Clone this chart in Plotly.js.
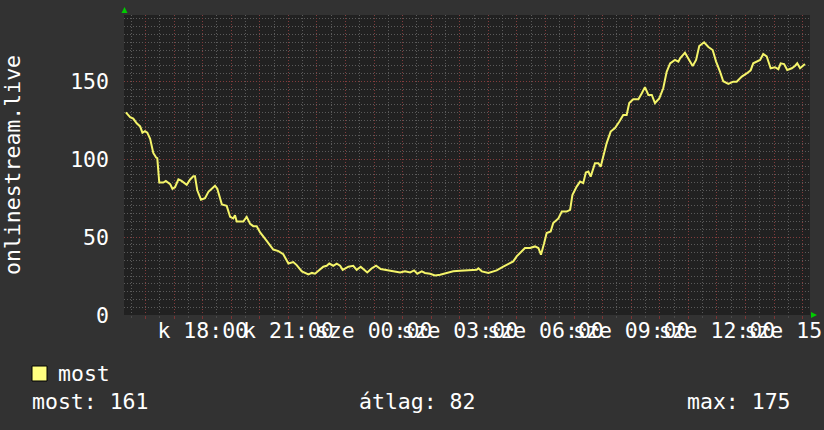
<!DOCTYPE html>
<html>
<head>
<meta charset="utf-8">
<script src="https://cdn.plot.ly/plotly-3.0.1.min.js"></script>
<style>
  html, body { margin: 0; padding: 0; background: #323232; }
  #chart { width: 824px; height: 430px; }
</style>
</head>
<body>
<div id="chart"></div>
<script>
// time of day in hours (24+ = next day, szerda)
const hours = [15.31,15.46,15.57,15.69,15.81,15.89,15.98,16.06,16.16,16.27,16.37,16.41,16.48,16.62,16.71,16.86,16.94,17.03,17.15,17.26,17.44,17.56,17.67,17.73,17.81,17.94,18.08,18.20,18.43,18.51,18.67,18.84,18.96,19.07,19.13,19.19,19.42,19.54,19.66,19.77,19.89,20.01,20.18,20.36,20.47,20.65,20.82,21.00,21.17,21.29,21.47,21.70,21.82,21.93,22.05,22.22,22.34,22.43,22.57,22.69,22.81,22.90,23.10,23.27,23.39,23.53,23.62,23.76,23.92,24.07,24.23,24.38,24.56,24.73,24.91,25.08,25.26,25.40,25.51,25.67,25.78,25.96,26.13,26.31,26.54,26.77,27.01,27.36,27.59,27.65,27.77,28.00,28.29,28.52,28.70,28.87,28.99,29.17,29.28,29.46,29.63,29.75,29.84,29.95,30.04,30.18,30.27,30.45,30.57,30.74,30.86,30.94,31.09,31.21,31.32,31.41,31.50,31.58,31.73,31.85,31.93,32.02,32.14,32.28,32.43,32.58,32.72,32.84,32.93,33.07,33.25,33.37,33.48,33.60,33.72,33.83,33.98,34.12,34.24,34.36,34.53,34.65,34.71,34.88,35.00,35.15,35.27,35.38,35.55,35.70,35.85,35.97,36.11,36.22,36.40,36.57,36.69,36.87,37.04,37.18,37.27,37.39,37.51,37.62,37.74,37.88,38.03,38.15,38.23,38.35,38.46,38.62,38.73,38.81,38.91,39.08];
const viewers = [130,127,126,123,121,117,118,117,113,104,101,100.6,85,85,86,84,81,82,87,86,83.5,87,89,89,80,74,75,79,83,81,71,70,63,62,64,60,60,63,58.5,57,57,53,49,45,42,41,39,33,34,32,28,26,27,26.5,28.6,31,31.6,33,31.6,33,31.6,29,31,31.6,29,31,29.5,27.3,30,31.6,29.5,29,28.6,28,27.3,28,27.3,28.6,26.5,28,27,26.5,25.4,25.8,27,28,28.4,28.6,29,30,28,27,28.6,31,33,34.4,37.6,40.8,43,43,44,43,38.7,46,52.6,53.6,59,62,66.4,66.4,67.5,77,82.4,85.6,84.6,91.4,92,88.8,97.4,97.4,95.2,101.7,110.3,117.7,120,124,128.4,128.4,136,138.5,138.5,142.3,146.2,141.2,141.2,136,139,145.5,156,161.5,163.7,162.6,164.7,168.3,164.7,159.8,163.7,172.6,175,172,170,162.6,156,150,148.3,149.7,149.7,153,155,157,161.5,162.6,163.7,167.5,166,158.3,159,157.7,161.5,161,157.2,158.3,159.8,161.5,158.3,161];

const xLabelHours = [18,21,24,27,30,33,36,39];
const xLabels = ['k 18:00','k 21:00','sze 00:00','sze 03:00','sze 06:00','sze 09:00','sze 12:00','sze 15:00'];
const yTickValues = [0,50,100,150];
const yTickLabels = ['0','50','100','150'];
const seriesName = 'most';
const yTitle = 'onlinestream.live';
const statLabels = ['most:','átlag:','max:'];
const statValues = [161,82,175];

const FONT = 'DejaVu Sans Mono';
const FS = 21.5;
const LINE = '#f4f46a';
const MAJOR = '#823c3c';
const MINOR = '#5a5a5a';
const DOTS = '1px,2px';

// plot area geometry (pixels)
const L = 124, R = 810, T = 15, B = 315;
const px = v => (v - L) / (R - L);
const py = v => (B - v) / (B - T);

// hourly major grid, labels every 3 hours
const xTickVals = [], xTickText = [];
for (let h = 16; h <= 39; h++) {
  xTickVals.push(h);
  const i = xLabelHours.indexOf(h);
  xTickText.push(i >= 0 ? xLabels[i] : '');
}

const trace = {
  x: hours, y: viewers, type: 'scatter', mode: 'lines', name: seriesName,
  line: { color: LINE, width: 2 }, hoverinfo: 'skip'
};

const tri = (pts) => 'M ' + pts.map(p => px(p[0]) + ',' + py(p[1])).join(' L ') + ' Z';
const txt = { family: FONT, size: FS, color: '#ffffff' };

const layout = {
  width: 824, height: 430,
  margin: { l: L, r: 824 - R, t: T, b: 430 - B, pad: 0 },
  paper_bgcolor: '#323232', plot_bgcolor: '#212121',
  showlegend: false,
  font: txt,
  xaxis: {
    range: [15.245, 39.257], fixedrange: true,
    tickmode: 'array', tickvals: xTickVals, ticktext: xTickText,
    tickangle: 0, ticklabeloverflow: 'allow',
    ticks: 'outside', ticklen: 3, tickcolor: '#7a3434', tickwidth: 1,
    showgrid: true, gridcolor: MAJOR, griddash: DOTS, gridwidth: 1,
    zeroline: false, showline: false,
    tickfont: txt,
    ticklabelstandoff: -7,
    minor: { tickmode: 'linear', tick0: 0, dtick: 0.5, showgrid: true, gridcolor: MINOR, griddash: DOTS, gridwidth: 1, ticks: 'outside', ticklen: 2, tickcolor: '#4a4a4a' }
  },
  yaxis: {
    range: [0, 192.5], fixedrange: true,
    tickmode: 'array', tickvals: yTickValues, ticktext: yTickLabels,
    ticks: '', showgrid: true, gridcolor: MAJOR, griddash: DOTS, gridwidth: 1,
    zeroline: false, showline: false,
    tickfont: txt,
    ticklabelstandoff: 14,
    minor: { tickmode: 'linear', tick0: 0, dtick: 5, showgrid: true, gridcolor: MINOR, griddash: DOTS, gridwidth: 1 },
    title: { text: yTitle, font: txt, standoff: 43 },
    automargin: false
  },
  shapes: [
    { type: 'path', xref: 'paper', yref: 'paper', path: tri([[121.5, 13], [127.5, 13], [124.5, 7]]), fillcolor: '#00cc00', line: { width: 0 } },
    { type: 'path', xref: 'paper', yref: 'paper', path: tri([[811, 312], [811, 318], [817, 315]]), fillcolor: '#00cc00', line: { width: 0 } },
    { type: 'rect', xref: 'paper', yref: 'paper', x0: px(32), x1: px(47), y0: py(381), y1: py(366), fillcolor: '#ffff80', line: { color: '#000000', width: 1 } }
  ],
  annotations: [
    { xref: 'paper', yref: 'paper', x: px(56), y: py(373.5), xanchor: 'left', yanchor: 'middle', text: seriesName, showarrow: false, font: txt },
    { xref: 'paper', yref: 'paper', x: px(30), y: py(401.5), xanchor: 'left', yanchor: 'middle', text: statLabels[0] + ' ' + statValues[0], showarrow: false, font: txt },
    { xref: 'paper', yref: 'paper', x: px(357), y: py(401.5), xanchor: 'left', yanchor: 'middle', text: statLabels[1] + ' ' + statValues[1], showarrow: false, font: txt },
    { xref: 'paper', yref: 'paper', x: px(685), y: py(401.5), xanchor: 'left', yanchor: 'middle', text: statLabels[2] + ' ' + statValues[2], showarrow: false, font: txt }
  ]
};

Plotly.newPlot('chart', [trace], layout, { staticPlot: true, displayModeBar: false });
</script>
</body>
</html>
